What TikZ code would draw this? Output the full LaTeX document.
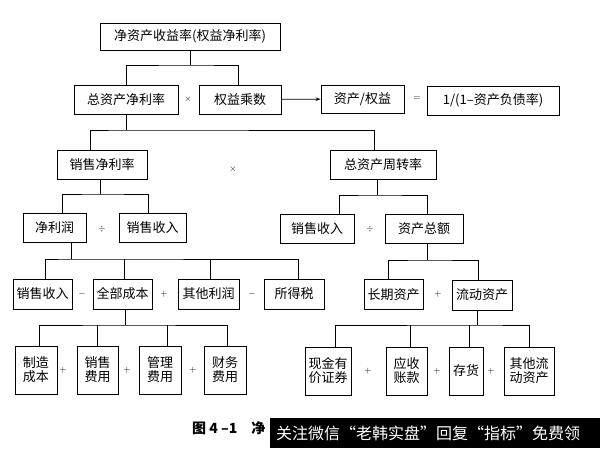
\documentclass[tikz,border=0pt]{standalone}
\usepackage{fontspec}
\usepackage{tikz}
\usetikzlibrary{arrows.meta}
\newfontfamily\cjk{Noto Sans CJK SC}

\begin{document}
\begin{tikzpicture}[x=1pt, y=-1pt,
    box/.style={draw, line width=0.9pt, inner sep=1pt, align=center,
        minimum height=29pt, font=\cjk\fontsize{13}{14}\selectfont},
    tall/.style={box, minimum height=48pt},
    wire/.style={line width=0.8pt},
    op/.style={inner sep=0pt, font=\small}]
    \useasboundingbox (0,0) rectangle (600,448);

    % top levels
    \node[box, minimum width=180pt, minimum height=27pt] (roe) at (190,36.5) {净资产收益率(权益净利率)};
    \node[box, minimum width=104pt] (roa)  at (126,99.5)  {总资产净利率};
    \node[box, minimum width=82pt]  (em)   at (240,99.5)  {权益乘数};
    \node[box, minimum width=83pt, minimum height=28pt] (eqr) at (362.5,99) {资产/权益};
    \node[box, minimum width=132pt] (dr)   at (493,100.5) {1/(1–资产负债率)};
    \node[box, minimum width=90pt]  (npm)  at (102,164.5) {销售净利率};
    \node[box, minimum width=106pt] (tat)  at (383,164.5) {总资产周转率};
    \node[box, minimum width=63pt]  (np)   at (54.5,227.5) {净利润};
    \node[box, minimum width=67pt]  (sr)   at (152.5,227.5) {销售收入};
    \node[box, minimum width=74pt]  (srb)  at (317,228.5) {销售收入};
    \node[box, minimum width=78pt]  (ta)   at (424,228.5) {资产总额};

    % fourth row
    \node[box, minimum width=59pt, minimum height=30pt] (sri) at (42.5,294)  {销售收入};
    \node[box, minimum width=59pt, minimum height=30pt] (tc)  at (122.5,294) {全部成本};
    \node[box, minimum width=61pt, minimum height=30pt] (op)  at (208.5,294) {其他利润};
    \node[box, minimum width=60pt, minimum height=30pt] (tax) at (294,294)   {所得税};
    \node[box, minimum width=59pt, minimum height=30pt] (la)  at (393.5,294.5) {长期资产};
    \node[box, minimum width=60pt, minimum height=30pt] (ca)  at (482,295)   {流动资产};

    % fifth row
    \node[tall, minimum width=42pt] (mc)   at (36,370)    {制造\\成本};
    \node[tall, minimum width=41pt] (se)   at (97.5,370)  {销售\\费用};
    \node[tall, minimum width=42pt] (adm)  at (160,370)   {管理\\费用};
    \node[tall, minimum width=42pt] (fe)   at (225,370)   {财务\\费用};
    \node[tall, minimum width=46pt] (cash) at (328,371)   {现金有\\价证券};
    \node[tall, minimum width=41pt] (ar)   at (406.5,371) {应收\\账款};
    \node[tall, minimum width=34pt] (inv)  at (466,371)   {存货};
    \node[tall, minimum width=50pt] (oca)  at (529,371)   {其他流\\动资产};

    % operators
    \foreach \x/\y/\s [count=\i] in {188/99/\times, 417/99/=, 233/169/\times,
        102/229/\div, 370/229/\div, 82/294/-, 164/294/+, 252/294/-, 438/294/+,
        63/370/+, 127/370/+, 193/370/+, 368/371/+, 437/371/+, 491/371/+}
        \node[op] (o\i) at (\x,\y) {$\s$};

    % connectors
    \coordinate (b1) at (190,65);
    \draw[wire] (roe) -- (b1);
    \draw[wire] (roa.north) |- (b1) -| ([xshift=-2pt]em.north);
    \draw[wire, -{Stealth[length=5pt,width=3.5pt]}] (em) -- (eqr);

    \coordinate (b2) at (126,130);
    \draw[wire] (roa) -- (b2);
    \draw[wire] ([xshift=-12pt]npm.north) |- (b2) -| ([xshift=-9pt]tat.north);

    \coordinate (b3) at (100,194);
    \draw[wire] (npm.south -| b3) -- (b3);
    \draw[wire] ([xshift=8pt]np.north) |- (b3) -| ([xshift=-4pt]sr.north);

    \coordinate (b4) at (377,195);
    \draw[wire] (tat.south -| b4) -- (b4);
    \draw[wire] ([xshift=22pt]srb.north) |- (b4) -| ([xshift=3pt]ta.north);

    \coordinate (b5) at (71,259);
    \draw[wire] (np.south -| b5) -- (b5);
    \draw[wire] ([xshift=3pt]sri.north) |- (b5) -| ([xshift=4pt]tax.north);
    \foreach \n in {tc, op}
        \draw[wire] ([xshift=2pt]\n.north) -- ([xshift=2pt]\n.north |- b5);

    \coordinate (b6) at (427,260);
    \draw[wire] (ta.south -| b6) -- (b6);
    \draw[wire] ([xshift=-5pt]la.north) |- (b6) -| ([xshift=-4pt]ca.north);

    \coordinate (b7) at (125,325);
    \draw[wire] (tc.south -| b7) -- (b7);
    \draw[wire] ([xshift=3pt]mc.north) |- (b7) -| ([xshift=2pt]fe.north);
    \draw[wire] (se.north) -- (se.north |- b7);
    \draw[wire] ([xshift=7pt]adm.north) -- ([xshift=7pt]adm.north |- b7);

    \coordinate (b8) at (477,325);
    \draw[wire] (ca.south -| b8) -- (b8);
    \draw[wire] ([xshift=7pt]cash.north) |- (b8) -| (oca.north);
    \draw[wire] ([xshift=4pt]ar.north) -- ([xshift=4pt]ar.north |- b8);
    \draw[wire] ([xshift=3pt]inv.north) -- ([xshift=3pt]inv.north |- b8);

    % caption and banner
    \node[anchor=west, inner sep=0pt, font=\cjk\bfseries\fontsize{14}{16}\selectfont] (cap) at (192,428) {图 4 –1\quad 净};
    \fill (270,418) rectangle (600,448);
    \node[anchor=west, inner sep=0pt, text=white, font=\cjk\fontsize{16}{18}\selectfont] (ad) at (276,433) {关注微信“老韩实盘”回复“指标”免费领};
\end{tikzpicture}
\end{document}
